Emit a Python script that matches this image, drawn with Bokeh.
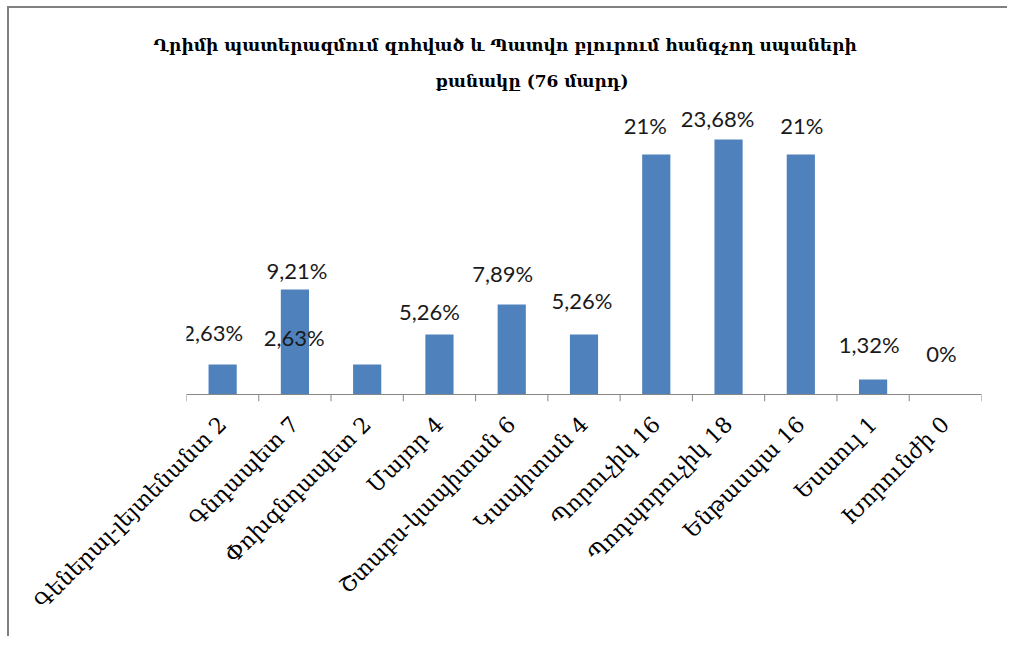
import math
from bokeh.plotting import figure
from bokeh.models import FactorRange, Range1d, Span, ColumnDataSource, Title
from bokeh.core.properties import value
from bokeh.embed import file_html
from bokeh.resources import INLINE

# ---- data ----
title_line1 = "Ղրիմի պատերազմում զոհված  և Պատվո բլուրում հանգչող սպաների"
title_line2 = "քանակը (76 մարդ)"
categories = ["Գեներալ-լեյտենանտ 2", "Գնդապետ 7", "Փոխգնդապետ 2", "Մայոր 4",
              "Շտաբս-կապիտան 6", "Կապիտան 4", "Պորուչիկ 16", "Պոդպորուչիկ 18",
              "Ենթասպա 16", "Եսաուլ 1", "Խորունժի 0"]
bar_values = [2, 7, 2, 4, 6, 4, 16, 17, 16, 1, 0]
label_texts = ["2,63%", "9,21%", "2,63%", "5,26%", "7,89%", "5,26%",
               "21%", "23,68%", "21%", "1,32%", "0%"]

# ---- layout (label placement offsets in px, as in the reference) ----
label_dx = [-10, 2, -73, -10, -9, -2, -11, -11, 1, -4, -4]
label_dy = [-32, -19, -27, -23, -31, -34, -29, -21, -29, -35, -41]

BAR = "#4F81BD"
AXIS = "#868686"
y_start = -7 / 15.0
y_end = 19.6

p = figure(width=1000, height=630, output_backend="svg", toolbar_location=None,
           x_range=FactorRange(factors=categories, range_padding=0),
           y_range=Range1d(y_start, y_end),
           min_border_left=177, min_border_right=28,
           min_border_top=92, min_border_bottom=237)
p.styles = {"margin-left": "7px", "margin-top": "6px",
            "border-left": "2px solid #808080", "border-top": "2px solid #808080"}
p.outline_line_color = None
p.grid.visible = False
p.yaxis.visible = False
p.title.visible = False

src = ColumnDataSource(dict(x=categories, top=bar_values, text=label_texts,
                            dx=label_dx, dy=label_dy))
p.vbar(x="x", top="top", width=0.39, source=src, fill_color=BAR, line_color=None)

p.add_layout(Span(location=0, dimension="width", line_color=AXIS, line_width=1))
ticks = list(range(len(categories) + 1))
p.segment(x0=ticks, y0=[0] * len(ticks), x1=ticks, y1=[y_start] * len(ticks),
          line_color=AXIS, line_width=1)

p.text(x="x", y="top", text="text", x_offset="dx", y_offset="dy", source=src,
       text_align="center", text_baseline="middle",
       text_font=value("Lato"), text_font_size="22px", text_color="#1a1a1a")

ax = p.xaxis[0]
ax.axis_line_color = None
ax.major_tick_line_color = None
ax.minor_tick_line_color = None
ax.major_label_orientation = math.pi / 4
ax.major_label_standoff = 13
ax.major_label_text_font = "DejaVu Serif"
ax.major_label_text_font_size = "22px"
ax.major_label_text_color = "#000000"

title_style = dict(align="left", text_font="DejaVu Serif", text_font_size="17px",
                   text_font_style="bold", text_color="#000000")
p.add_layout(Title(text=title_line2, offset=249, standoff=20, **title_style), "above")
p.add_layout(Title(text=title_line1, offset=-33, standoff=8, **title_style), "above")

open("out.html", "w").write(file_html(p, INLINE))
